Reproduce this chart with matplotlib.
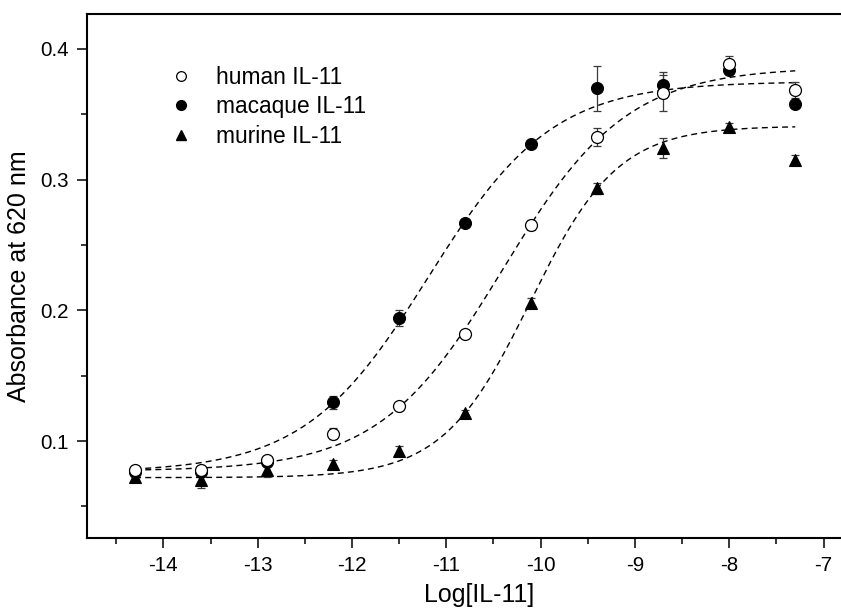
import numpy as np
import matplotlib
matplotlib.use("Agg")
import matplotlib.pyplot as plt
from matplotlib.lines import Line2D

plt.rcParams['font.family'] = ['Liberation Sans', 'DejaVu Sans']
plt.rcParams['axes.unicode_minus'] = False

# ---------------- data ----------------
log_conc = [-14.3, -13.6, -12.9, -12.2, -11.5, -10.8, -10.1, -9.4, -8.7, -8.0, -7.3]

human_mean = [0.078, 0.078, 0.0857, 0.1057, 0.1266, 0.182, 0.2652, 0.3328, 0.366, 0.3885, 0.3685]
human_err = [0.003, 0.003, 0.003, 0.004, 0.002, 0.002, 0.004, 0.0068, 0.0137, 0.006, 0.006]

macaque_mean = [0.076, 0.076, 0.084, 0.1297, 0.1942, 0.2665, 0.327, 0.3698, 0.3724, 0.3838, 0.3576]
macaque_err = [0.003, 0.003, 0.003, 0.005, 0.0064, 0.002, 0.002, 0.0172, 0.010, 0.003, 0.002]

murine_mean = [0.0724, 0.070, 0.0776, 0.0827, 0.0923, 0.1217, 0.2057, 0.2933, 0.3239, 0.3404, 0.315]
murine_err = [0.004, 0.006, 0.005, 0.003, 0.004, 0.002, 0.004, 0.004, 0.0077, 0.003, 0.004]

# dose-response fit parameters: bottom, top, logEC50, hill slope
human_fit = [0.077, 0.386, -10.40, 0.66]
macaque_fit = [0.076, 0.375, -11.19, 0.66]
murine_fit = [0.072, 0.341, -10.11, 0.936]

series_names = ["human IL-11", "macaque IL-11", "murine IL-11"]

x_ticks = [-14, -13, -12, -11, -10, -9, -8, -7]
y_ticks = [0.1, 0.2, 0.3, 0.4]


def dose_resp(x, p):
    a1, a2, x0, h = p
    return a1 + (a2 - a1) / (1 + 10 ** ((x0 - x) * h))


# ---------------- figure ----------------
W, H = 841, 608
fig = plt.figure(figsize=(W / 100, H / 100), dpi=100)
left_px, right_px, top_px, bot_px = 87.3, 870.7, 14, 537.5
ax = fig.add_axes([left_px / W, 1 - bot_px / H, (right_px - left_px) / W, (bot_px - top_px) / H])
ax.set_xlim(-14.807, -6.6)
ax.set_ylim(0.0262, 0.4267)

xs = np.linspace(min(log_conc), max(log_conc), 400)
for p in (human_fit, macaque_fit, murine_fit):
    ax.plot(xs, dose_resp(xs, p), color='black', lw=1.0, dashes=(4.3, 3.0), zorder=2)

err_kw = dict(fmt='none', ecolor='#3a3a3a', elinewidth=0.9, capsize=3.2, capthick=0.9, zorder=3)
ax.errorbar(log_conc, human_mean, yerr=human_err, **err_kw)
ax.errorbar(log_conc, macaque_mean, yerr=macaque_err, **err_kw)
ax.errorbar(log_conc, murine_mean, yerr=murine_err, **err_kw)

ms = 8.6
ax.plot(log_conc, murine_mean, ls='none', marker='^', ms=9.2, mfc='black', mec='black', mew=0.8, zorder=4)
ax.plot(log_conc, macaque_mean, ls='none', marker='o', ms=ms, mfc='black', mec='black', mew=0.8, zorder=5)
ax.plot(log_conc, human_mean, ls='none', marker='o', ms=ms, mfc='white', mec='black', mew=0.9, zorder=6)

# axes styling
for s in ('left', 'bottom', 'top'):
    ax.spines[s].set_linewidth(1.5)
ax.spines['right'].set_visible(False)

ax.set_xticks(x_ticks)
ax.set_xticklabels([str(t) for t in x_ticks])
ax.set_xticks(np.arange(-14.5, -6.4, 1.0), minor=True)
ax.set_yticks(y_ticks)
ax.set_yticklabels(["%.1f" % t for t in y_ticks])
ax.set_yticks([0.05, 0.15, 0.25, 0.35], minor=True)
ax.tick_params(which='major', direction='out', length=7, width=1.1, labelsize=14.8, pad=6)
ax.tick_params(which='minor', direction='out', length=4, width=1.1)
ax.tick_params(top=False, right=False)

ax.set_xlabel("Log[IL-11]", fontsize=18, labelpad=6)
ax.set_ylabel("Absorbance at 620 nm", fontsize=18, labelpad=7)

handles = [
    Line2D([], [], ls='none', marker='o', ms=7, mfc='white', mec='black', mew=0.9),
    Line2D([], [], ls='none', marker='o', ms=7, mfc='black', mec='black'),
    Line2D([], [], ls='none', marker='^', ms=7.5, mfc='black', mec='black'),
]
ax.legend(handles, series_names, frameon=False, fontsize=16.4, loc='upper left',
          bbox_to_anchor=((170 - left_px) / (right_px - left_px), 1 - (66 - top_px) / (bot_px - top_px)),
          borderaxespad=0, borderpad=0, handlelength=1.0, handletextpad=1.0, labelspacing=0.28)

fig.savefig("out.png", dpi=100)
